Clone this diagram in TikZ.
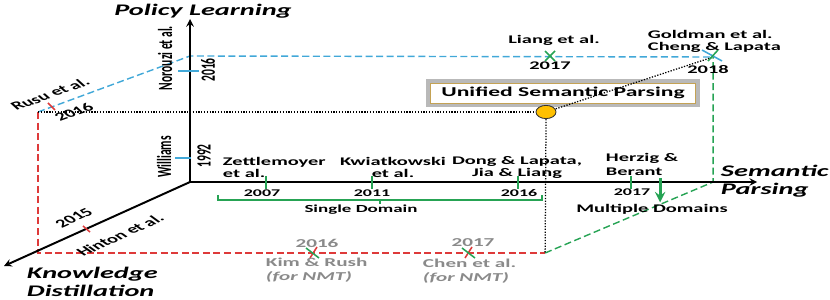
\documentclass[tikz,border=0pt]{standalone}
\usepackage{fontspec}
\setmainfont{Carlito}
\usetikzlibrary{shapes.geometric}

\definecolor{plblue}{RGB}{65,168,216}
\definecolor{kdred}{RGB}{222,58,58}
\definecolor{spgreen}{RGB}{38,163,84}
\definecolor{uspgold}{RGB}{196,162,84}
\definecolor{uspyellow}{RGB}{255,192,0}
\definecolor{kdgray}{RGB}{138,138,138}

\begin{document}
\begin{tikzpicture}[x=0.0142857cm, y=-0.025cm, xscale=1.75, >=stealth,
  every node/.append style={transform shape, inner sep=1pt},
  axisline/.style={line width=1.4pt, ->},
  plline/.style={plblue, line width=1pt, dash pattern=on 5pt off 2.5pt},
  kdline/.style={kdred, line width=1pt, dash pattern=on 5pt off 2.5pt},
  spline/.style={spgreen, line width=1pt, dash pattern=on 5pt off 2.5pt},
  uspline/.style={black, line width=0.9pt, dash pattern=on 0.9pt off 1.1pt},
  pltick/.style={plblue, line width=1.1pt},
  kdtick/.style={kdred, line width=1.1pt},
  sptick/.style={spgreen, line width=1.2pt},
  lbl/.style={font=\fontsize{8.3}{8.2}\selectfont\bfseries},
  vlbl/.style={font=\fontsize{8.2}{9}\selectfont\bfseries, rotate=90},
  yr/.style={font=\fontsize{7.3}{8}\selectfont\bfseries},
  gry/.style={font=\fontsize{8.6}{10}\selectfont\bfseries, text=kdgray},
  ttl/.style={font=\fontsize{11.5}{12.8}\selectfont\bfseries\itshape, align=left},
]
\useasboundingbox (0,0) rectangle (830,300);

% ===== 座標 =====
\coordinate (O) at (190,182);
\coordinate (plEnd) at (190,19);
\coordinate (spEnd) at (757,182);
\coordinate (kdEnd) at (4,266);

\coordinate (kdTop) at (38,112);
\coordinate (kdBot) at (38,253);
\coordinate (plTop) at (190,56);
\coordinate (spTop) at (713,57);
\coordinate (spBot) at (713,182);
\coordinate (uspBot) at (545,253);

% ===== Unified Semantic Parsing =====
\node[font=\fontsize{9.6}{10}\selectfont\bfseries, draw=uspgold, line width=0.5pt,
  fill=white, preaction={draw=gray!55, line width=6pt},
  minimum height=0.5cm, inner xsep=4.5pt] (uspBox) at (563,93) {Unified Semantic Parsing};
\node[ellipse, draw=black!80, line width=0.6pt, fill=uspyellow, inner sep=0pt,
  minimum width=0.286cm, minimum height=0.33cm] (usp) at (546,112) {};

% ===== 面の枠 =====
\draw[plline] (kdTop) -- (plTop) -- (spTop);
\draw[kdline] (kdTop) -- (kdBot) -- (uspBot);
\draw[spline] (uspBot) -- (spBot) -- (spTop);

% 点線
\draw[uspline] (kdTop) -- (usp);
\draw[uspline] (usp) -- (uspBot);
\draw[uspline] (usp) -- (spTop);

% ===== 軸 =====
\draw[axisline] (O) -- (plEnd);
\draw[axisline] (O) -- (spEnd);
\draw[axisline] (O) -- (kdEnd);

\node[ttl] (plTitle) at (203,11) {Policy Learning};
\node[ttl, anchor=west] (spTitle) at (718,181) {Semantic\\Parsing};
\node[ttl, anchor=west] (kdTitle) at (24,282) {Knowledge\\Distillation};

% ===== Policy Learning 軸 =====
\draw[pltick] (178,71) -- (199,71);
\draw[pltick] (175,158) -- (191,158);
\node[vlbl] (norouzi) at (165,58) {Norouzi et al.};
\node[vlbl] (norouziYr) at (208,70) {2016};
\node[vlbl] (williams) at (164,157) {Williams};
\node[vlbl] (williamsYr) at (204,156) {1992};

% Rusu, Hinton
\draw[kdtick] (48,103) -- (55,110);
\node[lbl, rotate=32.3] (rusu) at (50,94) {Rusu et al.};
\node[lbl, rotate=32.3] (rusuYr) at (74,112) {2016};
\draw[kdtick] (83,226) -- (90,232);
\node[lbl, rotate=38.1] (hinton) at (120,235) {Hinton et al.};
\node[lbl, rotate=38.1] (hintonYr) at (74,218) {2015};

% ===== 上の線 =====
\draw[spgreen, line width=1.1pt] (545,51) -- (555,61) (545,61) -- (555,51);
\node[lbl] (liang) at (554,40) {Liang et al.};
\node[lbl] (liangYr) at (550,66) {2017};
\draw[plblue, line width=1.1pt] (702,50) -- (722,61);
\draw[spgreen, line width=1.1pt] (708,61) -- (718,50);
\node[lbl, align=left, anchor=west] (goldman) at (645,41.5) {Goldman et al.\\Cheng \& Lapata};
\node[lbl] (goldmanYr) at (708,70) {2018};

% ===== Semantic Parsing 軸 =====
\foreach \x in {266,372,518,631}
  \draw[sptick] (\x,176) -- (\x,189);
\node[yr] at (262,193) {2007};
\node[yr] at (372,193) {2011};
\node[yr] at (519,193) {2016};
\node[yr] at (632,192) {2017};

\node[lbl, align=left, anchor=west] (zettle) at (220,167.5) {Zettlemoyer\\et al.};
\node[lbl, align=center] (kwiat) at (393,167.5) {Kwiatkowski\\et al.};
\node[lbl, align=center] (dong) at (517,167.5) {Dong \& Lapata,\\Jia \& Liang};
\node[lbl, align=left, anchor=west, font=\fontsize{8.3}{10}\selectfont\bfseries] (herzig) at (603,164) {Herzig \&\\Berant};

% 括弧
\draw[sptick] (218,195) -- (218,200) -- (542,200) -- (542,195);
\draw[sptick] (380,200) -- (380,204);
\node[font=\fontsize{7.7}{8}\selectfont\bfseries] (single) at (361,210) {Single Domain};

\node[lbl] (multi) at (652,209) {Multiple Domains};
\coordinate (multiArr) at (660,178);
\draw[spgreen, line width=2.2pt, ->] (multiArr) -- (multi.north -| multiArr);

% ===== Knowledge Distillation 線 =====
\draw[kdred, line width=1.1pt] (310,258) -- (317,247);
\draw[spgreen, line width=1.1pt] (306,248) -- (319,258);
\node[gry] (kimYr) at (317,243) {2016};
\node[gry, align=left, anchor=west] (kim) at (263,270) {Kim \& Rush\\\textit{(for NMT)}};

\draw[kdred, line width=1.1pt] (465,258) -- (472,247);
\draw[spgreen, line width=1.1pt] (462,248) -- (475,258);
\node[gry] (chenYr) at (473,243) {2017};
\node[gry, align=left, anchor=west] (chen) at (420,271) {Chen et al.\\\textit{(for NMT)}};

\end{tikzpicture}
\end{document}
